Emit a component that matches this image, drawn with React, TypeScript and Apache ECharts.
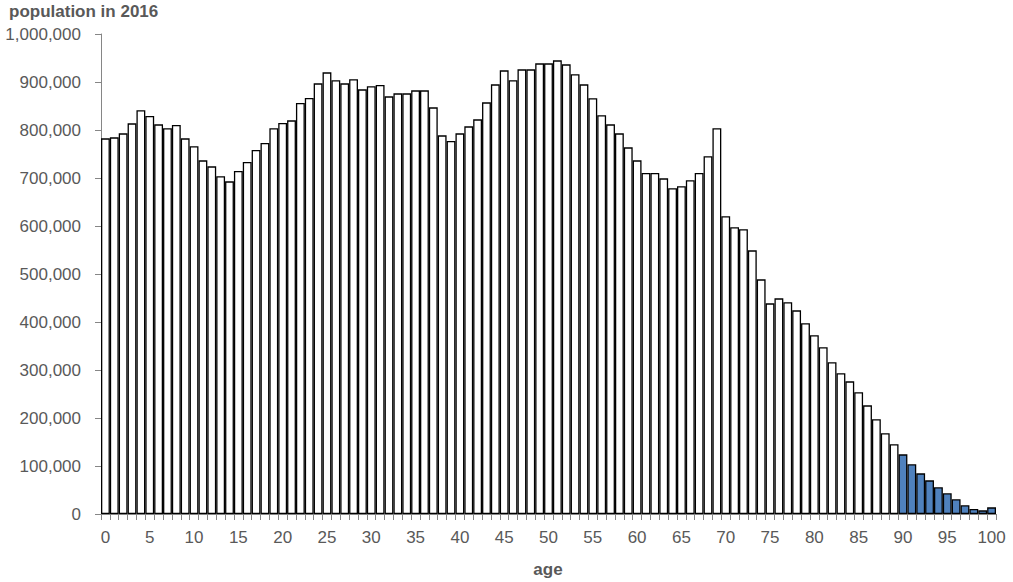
import React, { useEffect, useRef } from "react";
import * as echarts from "echarts";

const ages: string[] = Array.from({ length: 101 }, (_, i) => String(i));

const population: number[] = [
  782600, 784700, 793000, 813900, 841000, 829200, 811800, 803500, 810400, 782600,
  766000, 736800, 724300, 703500, 693000, 714600, 733300, 758300, 772900, 803500,
  814600, 820100, 856200, 866600, 897200, 920100, 903500, 897200, 905600, 884700,
  891000, 893700, 870100, 876400, 876400, 882600, 882600, 847200, 788900, 777100,
  793000, 807600, 822200, 857600, 895100, 924300, 903500, 926400, 926400, 938900,
  938900, 945100, 936800, 916000, 895100, 866000, 830600, 811800, 793000, 763900,
  736800, 710400, 710400, 699300, 678500, 682700, 695200, 710400, 745200, 803500,
  620200, 597300, 593100, 549300, 488900, 438900, 449300, 441000, 424300, 397300,
  372300, 347300, 316000, 293100, 276400, 253500, 226400, 197300, 168100, 145200,
  124300, 103500, 84700, 70100, 55600, 43100, 30600, 18100, 10400, 7600,
  13900,
];

const highlightFromAge = 90;

const titleText = "population in 2016";
const xAxisTitle = "age";

export default function App() {
  const ref = useRef<HTMLDivElement>(null);

  useEffect(() => {
    if (!ref.current) return;
    const chart = echarts.init(ref.current, undefined, { renderer: "svg" });
    const grey = "#595959";
    const axisGrey = "#868686";
    const data = population.map((v, i) => ({
      value: v,
      itemStyle: {
        color: i >= highlightFromAge ? "#4F81BD" : "#ffffff",
        borderColor: "#000000",
        borderWidth: 1.3,
      },
    }));
    chart.setOption({
      animation: false,
      backgroundColor: "#ffffff",
      textStyle: { fontFamily: "Liberation Sans, Arial, sans-serif" },
      grid: { left: 101, right: 17, top: 34, bottom: 68, containLabel: false },
      graphic: [
        {
          type: "text",
          left: 9,
          top: 3,
          style: {
            text: titleText,
            font: "bold 17px 'Liberation Sans', Arial, sans-serif",
            fill: grey,
          },
        },
        {
          type: "text",
          x: 548,
          y: 569,
          style: {
            text: xAxisTitle,
            font: "bold 17px 'Liberation Sans', Arial, sans-serif",
            fill: grey,
            align: "center",
            verticalAlign: "middle",
          },
        },
      ],
      xAxis: {
        type: "category",
        data: ages,
        boundaryGap: true,
        axisLine: { show: true, lineStyle: { color: axisGrey, width: 1 } },
        axisTick: {
          show: true,
          interval: 0,
          length: 6,
          lineStyle: { color: axisGrey },
        },
        axisLabel: {
          interval: 4,
          margin: 15,
          color: grey,
          fontSize: 17,
          fontFamily: "Liberation Sans, Arial, sans-serif",
        },
        splitLine: { show: false },
      },
      yAxis: {
        type: "value",
        min: 0,
        max: 1000000,
        interval: 100000,
        axisLine: { show: true, lineStyle: { color: axisGrey, width: 1 } },
        axisTick: { show: true, length: 6, lineStyle: { color: axisGrey } },
        axisLabel: {
          margin: 20,
          color: grey,
          fontSize: 17,
          fontFamily: "Liberation Sans, Arial, sans-serif",
          formatter: (v: number) => v.toLocaleString("en-US"),
        },
        splitLine: { show: false },
      },
      series: [
        {
          type: "bar",
          data,
          barCategoryGap: "0%",
          barGap: "0%",
        },
      ],
    });
    return () => chart.dispose();
  }, []);

  return (
    <div
      ref={ref}
      style={{ position: "absolute", left: 0, top: 0, width: 1013, height: 582 }}
    />
  );
}
